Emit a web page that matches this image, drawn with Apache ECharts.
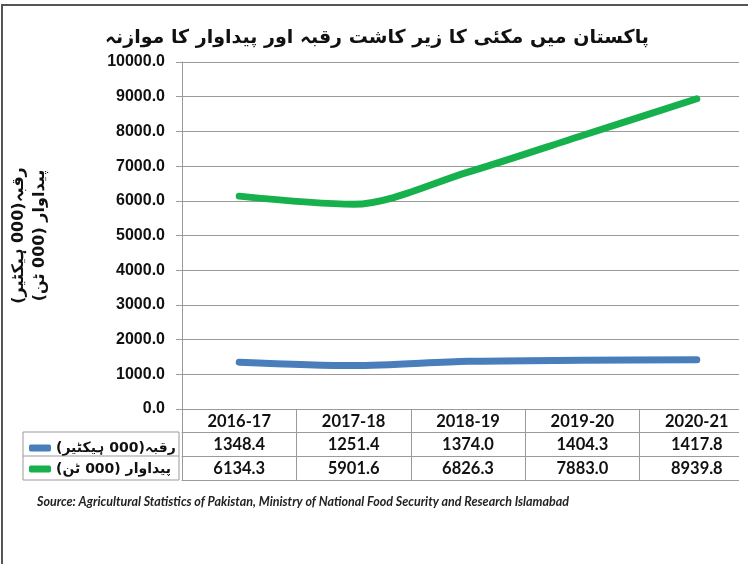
<!DOCTYPE html>
<html>
<head>
<meta charset="utf-8">
<script src="https://cdn.jsdelivr.net/npm/echarts@6/dist/echarts.min.js"></script>
<style>
  html, body { margin: 0; padding: 0; background: #fff; }
  #chart { width: 754px; height: 564px; }
</style>
</head>
<body>
<div id="chart"></div>
<script>
  // data
  var years = ['2016-17', '2017-18', '2018-19', '2019-20', '2020-21'];
  var area = [1348.4, 1251.4, 1374.0, 1404.3, 1417.8];
  var production = [6134.3, 5901.6, 6826.3, 7883.0, 8939.8];
  var areaName = 'رقبہ(000 ہیکٹیر)';
  var prodName = 'پیداوار (000 ٹن)';

  var gridCol = '#9a9a9a';
  var urdu = '"DejaVu Sans", Arial, sans-serif';
  var num = 'Lato, "Open Sans", sans-serif';

  var chartDom = document.getElementById('chart');
  var myChart = echarts.init(chartDom);

  function tableRow(offset, values) {
    return {
      type: 'category',
      data: years,
      position: 'bottom',
      offset: offset,
      boundaryGap: true,
      axisLine: { show: true, lineStyle: { color: gridCol, width: 1 } },
      axisTick: { show: true, length: 24, lineStyle: { color: gridCol } },
      axisLabel: {
        show: !!values,
        margin: 4,
        fontFamily: num,
        fontWeight: 'bold',
        fontSize: 16.5,
        color: '#111',
        formatter: function (v, i) { return values ? values[i].toFixed(1) : ''; }
      }
    };
  }

  var option = {
    animation: false,
    title: {
      text: 'پاکستان میں مکئی کا زیر کاشت رقبہ اور پیداوار کا موازنہ',
      left: 'center',
      top: 24,
      textStyle: { fontFamily: urdu, fontWeight: 'bold', fontSize: 19, color: '#111' }
    },
    legend: {
      data: [areaName, prodName],
      orient: 'vertical',
      left: 24,
      top: 436,
      itemGap: 7,
      itemWidth: 22,
      itemHeight: 7,
      icon: 'roundRect',
      textStyle: { fontFamily: urdu, fontWeight: 'bold', fontSize: 14, color: '#111' }
    },
    grid: { left: 179, right: 0, top: 62, bottom: 155 },
    xAxis: [
      {
        type: 'category',
        data: years,
        position: 'bottom',
        boundaryGap: true,
        axisLine: { show: true, lineStyle: { color: gridCol } },
        axisTick: { show: true, length: 23, lineStyle: { color: gridCol } },
        axisLabel: { margin: 4, fontFamily: num, fontWeight: 'bold', fontSize: 16.5, color: '#111' }
      },
      tableRow(23, area),
      tableRow(47, production),
      {
        type: 'category',
        data: years,
        position: 'bottom',
        offset: 71,
        axisLine: { show: true, lineStyle: { color: gridCol } },
        axisTick: { show: false },
        axisLabel: { show: false }
      }
    ],
    yAxis: {
      type: 'value',
      min: 0,
      max: 10000,
      interval: 1000,
      name: areaName + '\n' + prodName,
      nameLocation: 'middle',
      nameGap: 132,
      nameTextStyle: { fontFamily: urdu, fontWeight: 'bold', fontSize: 16, color: '#111', lineHeight: 21 },
      axisLine: { show: true, lineStyle: { color: gridCol } },
      axisTick: { show: true, length: 6, lineStyle: { color: gridCol } },
      axisLabel: {
        margin: 17,
        fontFamily: 'Arial, "Liberation Sans", sans-serif',
        fontWeight: 'bold',
        fontSize: 16,
        color: '#111',
        formatter: function (v) { return v.toFixed(1); }
      },
      splitLine: { show: true, lineStyle: { color: gridCol } }
    },
    graphic: [
      // the picture is cut at the right: gridlines and table stop short of the edge
      {
        type: 'rect',
        z: 1,
        shape: { x: 739, y: 50, width: 20, height: 434 },
        style: { fill: '#fff' }
      },
      // outer frame (left and top edges)
      {
        type: 'polyline',
        shape: { points: [[2, 564], [2, 5], [748, 5]] },
        style: { stroke: '#555', lineWidth: 2, fill: null }
      },
      // row-label column of the data table
      {
        type: 'rect',
        shape: { x: 23, y: 432, width: 156, height: 48 },
        style: { stroke: gridCol, lineWidth: 1, fill: null }
      },
      {
        type: 'line',
        shape: { x1: 23, y1: 456, x2: 179, y2: 456 },
        style: { stroke: gridCol, lineWidth: 1 }
      },
      {
        type: 'text',
        left: 37,
        top: 495,
        style: {
          text: 'Source: Agricultural Statistics of Pakistan, Ministry of National Food Security and Research Islamabad',
          font: 'italic bold 12.5px Lato, "Open Sans", sans-serif',
          fill: '#222'
        }
      }
    ],
    series: [
      {
        name: areaName,
        type: 'line',
        data: area,
        smooth: 0.3,
        symbol: 'none',
        color: '#4a7ebb',
        lineStyle: { width: 7, cap: 'round' }
      },
      {
        name: prodName,
        type: 'line',
        data: production,
        smooth: 0.3,
        symbol: 'none',
        color: '#16b04c',
        lineStyle: { width: 7, cap: 'round' }
      }
    ]
  };
  option && myChart.setOption(option);
</script>
</body>
</html>
